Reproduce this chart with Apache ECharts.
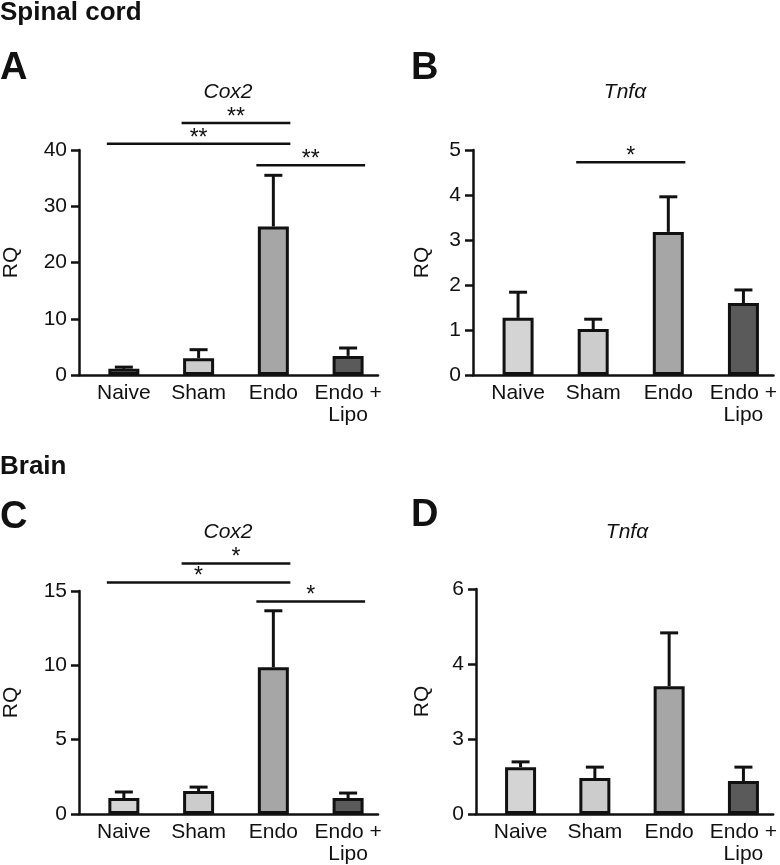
<!DOCTYPE html>
<html><head><meta charset="utf-8">
<script src="https://cdn.jsdelivr.net/npm/echarts@6/dist/echarts.min.js"></script>
<style>html,body{margin:0;padding:0;background:#fff}#c{width:780px;height:865px}</style>
</head><body><div id="c"></div>
<script>
// ---------- data ----------
const categories = ['Naive', 'Sham', 'Endo', 'Endo +\nLipo'];
const barColors = ['#d4d4d4', '#cccccc', '#a6a6a6', '#5a5a5a'];

// Spinal cord Cox2 (A)
const cox2SpinalMean = [1.1, 3.0, 26.4, 3.4];
const cox2SpinalErr  = [0.3, 1.5, 9.1, 1.4];
// Spinal cord Tnfa (B)
const tnfSpinalMean = [1.27, 1.02, 3.18, 1.6];
const tnfSpinalErr  = [0.57, 0.22, 0.78, 0.29];
// Brain Cox2 (C)
const cox2BrainMean = [1.07, 1.54, 9.87, 1.07];
const cox2BrainErr  = [0.41, 0.27, 3.8, 0.34];
// Brain Tnfa (D)
const tnfBrainMean = [1.25, 0.96, 3.41, 0.88];
const tnfBrainErr  = [0.14, 0.29, 1.42, 0.37];
const tnfBrainTickValues = [0, 2, 4, 6];
const tnfBrainTickLabels = ['0', '3', '4', '6'];

// significance brackets: [fromIndex, toIndex, level]
const sigA = [[1, 2, 44.8], [0, 2, 41.1], [2, 3, 37.3]];
const sigAMarks = ['**', '**', '**'];
const sigB = [[1, 2, 4.73]];
const sigBMarks = ['*'];
const sigC = [[1, 2, 16.85], [0, 2, 15.57], [2, 3, 14.3]];
const sigCMarks = ['*', '*', '*'];
const sigD = [];
const sigDMarks = [];

// ---------- layout ----------
const FONT = "'Liberation Sans', Arial, Helvetica, sans-serif";
const INK = '#111';
const BAR_W = 31, BAR_BORDER = 3;
const FS = 21;

const panels = [
  {grid: {left: 77, top: 150, width: 301, height: 225}, ymax: 40, yint: 10, nameGap: 57,
   mean: cox2SpinalMean, err: cox2SpinalErr, sig: sigA, marks: sigAMarks},
  {grid: {left: 473, top: 150, width: 304, height: 225}, ymax: 5, yint: 1, nameGap: 40,
   mean: tnfSpinalMean, err: tnfSpinalErr, sig: sigB, marks: sigBMarks},
  {grid: {left: 77, top: 591, width: 301, height: 223}, ymax: 15, yint: 5, nameGap: 57,
   mean: cox2BrainMean, err: cox2BrainErr, sig: sigC, marks: sigCMarks},
  {grid: {left: 476, top: 589, width: 302, height: 225}, ymax: 6, yint: 2, nameGap: 43,
   mean: tnfBrainMean, err: tnfBrainErr, sig: sigD, marks: sigDMarks,
   yFormatter: v => tnfBrainTickLabels[tnfBrainTickValues.indexOf(v)]}
];

const grids = [], xAxes = [], yAxes = [], series = [];
panels.forEach((p, k) => {
  grids.push(Object.assign({containLabel: false}, p.grid));
  xAxes.push({
    type: 'value', gridIndex: k, min: -0.6, max: 3.4,
    axisLine: {show: true, onZero: false, lineStyle: {color: INK, width: 2.5}},
    axisTick: {show: false},
    splitLine: {show: false},
    axisLabel: {
      customValues: [0, 1, 2, 3],
      formatter: v => categories[Math.round(v)],
      color: INK, fontSize: FS, fontFamily: FONT, lineHeight: 22, margin: 7
    }
  });
  yAxes.push({
    type: 'value', gridIndex: k, min: 0, max: p.ymax, interval: p.yint,
    axisLine: {show: true, onZero: false, lineStyle: {color: INK, width: 2.5}},
    axisTick: {show: true, length: 8, lineStyle: {color: INK, width: 2.5}},
    splitLine: {show: false},
    axisLabel: {color: INK, fontSize: FS, fontFamily: FONT, margin: 12,
      formatter: p.yFormatter || (v => String(v))},
    name: 'RQ', nameLocation: 'middle', nameGap: p.nameGap,
    nameTextStyle: {color: INK, fontSize: FS, fontFamily: FONT}
  });
  // error bars (upper only) drawn under bars
  series.push({
    type: 'custom', xAxisIndex: k, yAxisIndex: k, z: 1, clip: false,
    data: p.mean.map((m, i) => [i, m, m + p.err[i]]),
    renderItem: (params, api) => {
      const a = api.coord([api.value(0), api.value(1)]);
      const b = api.coord([api.value(0), api.value(2)]);
      const st = {stroke: INK, lineWidth: 3};
      return {type: 'group', children: [
        {type: 'line', shape: {x1: a[0], y1: a[1], x2: b[0], y2: b[1]}, style: st},
        {type: 'line', shape: {x1: b[0] - 9, y1: b[1], x2: b[0] + 9, y2: b[1]}, style: st}
      ]};
    }
  });
  series.push({
    type: 'bar', xAxisIndex: k, yAxisIndex: k, z: 2, barWidth: BAR_W,
    data: p.mean.map((m, i) => ({value: [i, m], itemStyle: {color: barColors[i]}})),
    itemStyle: {borderColor: INK, borderWidth: BAR_BORDER},
    emphasis: {disabled: true}
  });
  if (p.sig.length) {
    series.push({
      type: 'custom', xAxisIndex: k, yAxisIndex: k, z: 3, clip: false,
      data: p.sig,
      renderItem: (params, api) => {
        const half = (BAR_W + BAR_BORDER) / 2;
        const a = api.coord([api.value(0), api.value(2)]);
        const b = api.coord([api.value(1), api.value(2)]);
        const x1 = a[0] - half, x2 = b[0] + half;
        return {type: 'group', children: [
          {type: 'line', shape: {x1: x1, y1: a[1], x2: x2, y2: a[1]}, style: {stroke: INK, lineWidth: 2.5}},
          {type: 'text', x: (x1 + x2) / 2, y: a[1] + 6,
           style: {text: p.marks[params.dataIndex], fill: INK, font: '23px ' + FONT,
                   align: 'center', verticalAlign: 'bottom'}}
        ]};
      }
    });
  }
});

const txt = (s, x, y, font, align) => ({type: 'text', x: x, y: y,
  style: {text: s, fill: INK, font: font, align: align || 'left', verticalAlign: 'middle'}});

const graphics = [
  txt('Spinal cord', 0, 13, 'bold 26px ' + FONT),
  txt('Brain', 0, 467, 'bold 26px ' + FONT),
  txt('A', 0, 69, 'bold 38px ' + FONT),
  txt('B', 411, 69, 'bold 38px ' + FONT),
  txt('C', 0, 518, 'bold 38px ' + FONT),
  txt('D', 411, 516, 'bold 38px ' + FONT),
  txt('Cox2', 228, 92, 'italic 21px ' + FONT, 'center'),
  txt('Tnf\u03b1', 625, 92, 'italic 21px ' + FONT, 'center'),
  txt('Cox2', 228, 532, 'italic 21px ' + FONT, 'center'),
  txt('Tnf\u03b1', 627, 532, 'italic 21px ' + FONT, 'center')
];

const chart = echarts.init(document.getElementById('c'), null, {renderer: 'canvas'});
chart.setOption({
  animation: false,
  backgroundColor: '#fff',
  grid: grids, xAxis: xAxes, yAxis: yAxes, series: series,
  graphic: graphics
});
</script></body></html>
